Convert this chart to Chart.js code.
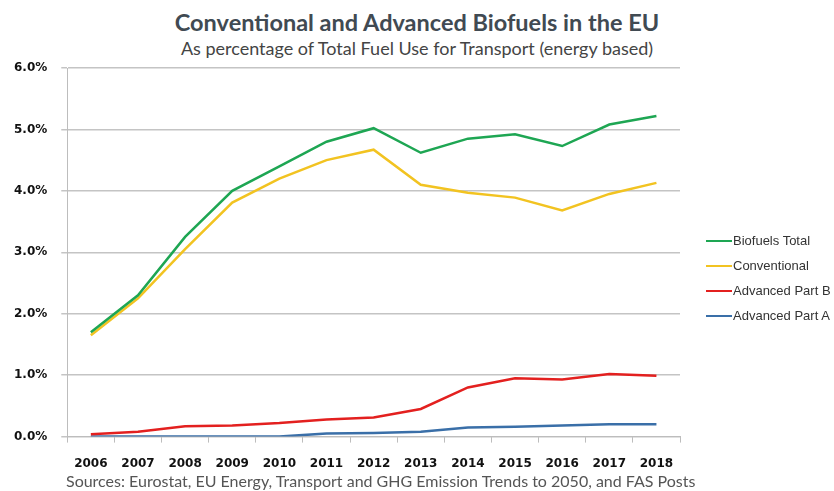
<!DOCTYPE html>
<html><head><meta charset="utf-8">
<script src="https://cdn.jsdelivr.net/npm/chart.js@4"></script>
<style>
body{margin:0;background:#fff;width:834px;height:491px;overflow:hidden;position:relative;font-family:Lato,sans-serif}
#title{position:absolute;left:0;width:834px;top:7px;text-align:center;font-weight:bold;font-size:23.5px;color:#414a52;line-height:30px}
#sub{position:absolute;left:0;width:834px;top:37px;text-align:center;font-size:18px;color:#444;line-height:22px}
#src{position:absolute;left:66px;top:471px;font-size:16px;color:#555;line-height:20px;white-space:nowrap}
#wrap{position:absolute;left:0;top:0;width:834px;height:491px}
#legend{position:absolute;left:706px;top:228px;font-family:"Liberation Sans",Arial,sans-serif;font-size:13px;color:#333}
.li{height:25px;display:flex;align-items:center;white-space:nowrap}
.sw{display:inline-block;width:26px;height:2px;margin-right:1px}
</style></head><body>
<div id="title">Conventional and Advanced Biofuels in the EU</div>
<div id="sub">As percentage of Total Fuel Use for Transport (energy based)</div>
<div id="wrap"><canvas id="c" width="834" height="491"></canvas></div>
<div id="legend"></div>
<div id="src">Sources: Eurostat, EU Energy, Transport and GHG Emission Trends to 2050, and FAS Posts</div>
<script>
const years = ["2006","2007","2008","2009","2010","2011","2012","2013","2014","2015","2016","2017","2018"];
const biofuelsTotal = [1.70,2.30,3.25,4.00,4.40,4.80,5.02,4.62,4.85,4.92,4.73,5.08,5.22];
const conventional = [1.65,2.25,3.05,3.81,4.20,4.50,4.67,4.10,3.97,3.89,3.68,3.95,4.13];
const advancedB = [0.04,0.08,0.17,0.18,0.22,0.28,0.31,0.45,0.80,0.95,0.93,1.02,0.99];
const advancedA = [0.00,0.00,0.00,0.00,0.00,0.05,0.06,0.08,0.15,0.16,0.18,0.20,0.20];
const yTicks = [0,1,2,3,4,5,6];

const series = [
  {label:"Biofuels Total", data:biofuelsTotal, color:"#1ea653"},
  {label:"Conventional", data:conventional, color:"#f2c321"},
  {label:"Advanced Part B", data:advancedB, color:"#e3201f"},
  {label:"Advanced Part A", data:advancedA, color:"#3a6fa8"}
];
const leg = document.getElementById('legend');
series.forEach(s=>{
  const d=document.createElement('div');d.className='li';
  d.innerHTML='<span class="sw" style="background:'+s.color+'"></span>'+s.label;
  leg.appendChild(d);
});
new Chart(document.getElementById('c'),{
  type:'line',
  data:{labels:years,datasets:series.map(s=>({label:s.label,data:s.data,borderColor:s.color,backgroundColor:s.color,borderWidth:2.5,pointRadius:0,tension:0,fill:false}))},
  options:{
    responsive:false,animation:false,
    layout:{padding:{left:0,right:154,top:68,bottom:6}},
    plugins:{legend:{display:false},tooltip:{enabled:false}},
    scales:{
      x:{offset:true,
        grid:{display:true,drawOnChartArea:false,drawTicks:true,tickLength:6,offset:true,color:'#bdbdbd'},
        border:{color:'#bdbdbd'},
        ticks:{padding:14,color:'#111',font:{family:'DejaVu Sans',weight:'bold',size:12},maxRotation:0,autoSkip:false}},
      y:{min:0,max:6,
        afterBuildTicks:ax=>{ax.ticks=yTicks.map(v=>({value:v}));},
        grid:{color:'#c4c4c4',tickLength:6,lineWidth:1.5},
        border:{color:'#bdbdbd'},
        ticks:{padding:14,color:'#111',font:{family:'DejaVu Sans',weight:'bold',size:12},callback:v=>v.toFixed(1)+'%'}}
    }
  }
});
</script>
</body></html>
